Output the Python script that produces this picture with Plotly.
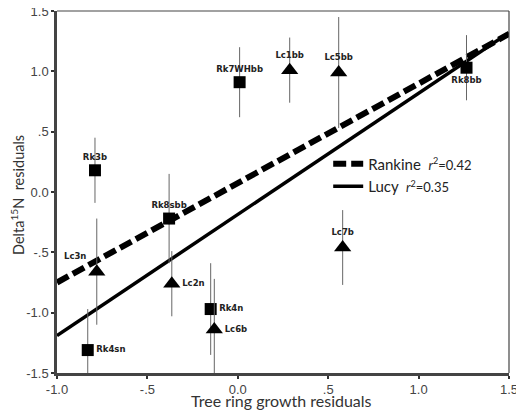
import plotly.graph_objects as go

# Rankine (squares)
rk_names = ["Rk3b", "Rk7WHbb", "Rk8sbb", "Rk4sn", "Rk4n", "Rk8bb"]
rk_x = [-0.79, 0.01, -0.38, -0.83, -0.15, 1.265]
rk_y = [0.18, 0.91, -0.22, -1.31, -0.97, 1.03]
rk_err = [0.27, 0.29, 0.37, 0.34, 0.38, 0.27]
rk_pos = ["top center", "top center", "top center", "middle right", "middle right", "bottom center"]

# Lucy (triangles)
lc_names = ["Lc3n", "Lc2n", "Lc6b", "Lc1bb", "Lc5bb", "Lc7b"]
lc_x = [-0.78, -0.365, -0.13, 0.287, 0.558, 0.58]
lc_y = [-0.66, -0.76, -1.14, 1.01, 0.99, -0.46]
lc_err = [0.44, 0.27, 0.42, 0.27, 0.46, 0.31]
lc_pos = ["top left", "middle right", "middle right", "top center", "top center", "top center"]

# Regression lines
fit_x = [-1.0, 1.5]
rankine_y = [-0.75, 1.31]
lucy_y = [-1.19, 1.32]

x_ticks = [-1.0, -0.5, 0.0, 0.5, 1.0, 1.5]
x_ticktext = ["-1.0", "-.5", "0.0", ".5", "1.0", "1.5"]
y_ticks = [-1.5, -1.0, -0.5, 0.0, 0.5, 1.0, 1.5]
y_ticktext = ["-1.5", "-1.0", "-.5", "0.0", ".5", "1.0", "1.5"]

x_title = "Tree ring growth residuals"
y_title = "Delta<sup>15</sup>N  residuals"

fig = go.Figure()

fig.add_trace(go.Scatter(
    x=fit_x, y=rankine_y, mode="lines",
    line=dict(color="black", width=6, dash="13px,5px"),
    name="Rankine  <span style='font-size:13px'><i>r</i><sup>2</sup>=0.42</span>",
))
fig.add_trace(go.Scatter(
    x=fit_x, y=lucy_y, mode="lines",
    line=dict(color="black", width=3.5),
    name="Lucy  <span style='font-size:13px'><i>r</i><sup>2</sup>=0.35</span>",
))

err_style = dict(type="data", thickness=1, width=0, color="#666")
lab_font = dict(family="DejaVu Sans", size=8.5, color="#222", weight="bold")

fig.add_trace(go.Scatter(
    x=rk_x, y=rk_y, mode="markers+text", text=rk_names, textposition=rk_pos,
    textfont=lab_font,
    marker=dict(symbol="square", size=12, color="black"),
    error_y=dict(array=rk_err, **err_style),
    showlegend=False, cliponaxis=True,
))
fig.add_trace(go.Scatter(
    x=lc_x, y=lc_y, mode="markers+text", text=lc_names, textposition=lc_pos,
    textfont=lab_font,
    marker=dict(symbol="triangle-up", size=15, color="black"),
    error_y=dict(array=lc_err, **err_style),
    showlegend=False, cliponaxis=True,
))

axis_common = dict(
    showgrid=False, zeroline=False, showline=True, linecolor="#444", linewidth=2.5,
    ticks="outside", ticklen=3, tickwidth=2, tickcolor="#333", automargin=False,
    ticklabeloverflow="allow",
    tickfont=dict(family="Liberation Sans", size=13, color="#444"),
)

fig.update_layout(
    width=524, height=412,
    margin=dict(l=49, r=23, t=3, b=47, autoexpand=False),
    paper_bgcolor="white", plot_bgcolor="white",
    xaxis=dict(range=[-1.0, 1.5], tickvals=x_ticks, ticktext=x_ticktext, **axis_common),
    yaxis=dict(range=[-1.5, 1.5], tickvals=y_ticks, ticktext=y_ticktext, **axis_common),
    legend=dict(x=0.6, y=0.623, xanchor="left", yanchor="top",
                bgcolor="rgba(0,0,0,0)", font=dict(family="Lato", size=15, color="#222"),
                itemwidth=30, tracegroupgap=0),
    shapes=[
        dict(type="line", xref="x domain", yref="y domain", x0=0, x1=1, y0=1, y1=1,
             line=dict(color="#444", width=1.2)),
        dict(type="line", xref="x domain", yref="y domain", x0=1, x1=1, y0=0, y1=1,
             line=dict(color="#444", width=1.2)),
    ],
    annotations=[
        dict(text=x_title, xref="paper", yref="paper", x=0.496, y=-0.077,
             xanchor="center", yanchor="middle", showarrow=False,
             font=dict(family="Lato", size=16, color="#333")),
        dict(text=y_title, xref="paper", yref="paper", x=-0.086, y=0.492,
             xanchor="center", yanchor="middle", showarrow=False, textangle=-90,
             font=dict(family="Lato", size=14.5, color="#333")),
    ],
)

fig.write_html("out.html")
